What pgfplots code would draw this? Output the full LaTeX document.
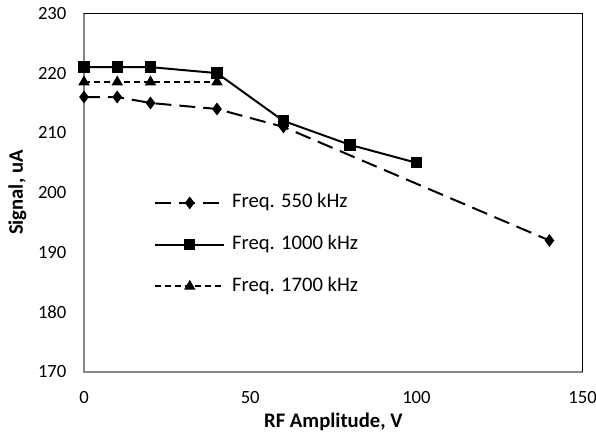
\documentclass[border=0pt]{standalone}
\usepackage{fontspec}
\setmainfont{Carlito}
\usepackage{pgfplots}
\pgfplotsset{compat=1.18}
\definecolor{axisgray}{RGB}{134,134,134}

\begin{document}
\begin{tikzpicture}
\begin{axis}[
  width=374pt, height=269pt, scale only axis,
  xmin=0, xmax=150, ymin=170, ymax=230,
  xtick={0,50,100,150}, ytick={170,180,...,230},
  major tick length=0pt,
  axis line style={draw=none},
  tick label style={font=\fontsize{14}{16}\selectfont, inner sep=0pt},
  /pgf/number format/assume math mode=true,
  xticklabel style={yshift=-14pt},
  yticklabel style={xshift=-13pt},
  xlabel={RF Amplitude, V}, ylabel={Signal, uA},
  every axis x label/.style={at={(axis description cs:0.5,-0.1394)}, anchor=center,
    font=\fontsize{15.5}{18}\selectfont\bfseries},
  every axis y label/.style={at={(axis description cs:-0.1337,0.5)}, anchor=center, rotate=90,
    font=\fontsize{15.5}{18}\selectfont\bfseries},
  clip=false,
  legend cell align=left,
  legend style={draw=none, fill=none, inner sep=0pt,
    at={(axis description cs:0.14,0.355)}, anchor=west,
    font=\fontsize{15.5}{18}\selectfont,
    nodes={inner sep=0pt, text height=10.5pt, text depth=3.5pt},
    row sep=17.3pt, column sep=5pt},
  legend image code/.code={\draw[mark repeat=2, mark phase=2] plot coordinates {(0pt,0pt)(26pt,0pt)(52pt,0pt)};},
]
\addplot[black, line width=1.5pt, dash pattern=on 12pt off 6pt, mark=diamond*, mark size=3.6pt, mark options={solid}]
  coordinates {(0,216)(10,216)(20,215)(40,214)(60,211)(140,192)};
\addlegendentry{Freq. 550 kHz}
\addplot[black, line width=1.5pt, mark=square*, mark size=3.5pt, mark options={solid}]
  coordinates {(0,221)(10,221)(20,221)(40,220)(60,212)(80,208)(100,205)};
\addlegendentry{Freq. 1000 kHz}
\addplot[black, line width=1.5pt, dash pattern=on 4.5pt off 3pt, mark=triangle*, mark size=3.5pt, mark options={solid}]
  coordinates {(0,218.5)(10,218.5)(20,218.5)(40,218.5)};
\addlegendentry{Freq. 1700 kHz}
\draw[axisgray, line width=1.5pt] (rel axis cs:0,1) -- (rel axis cs:0,0) -- (rel axis cs:1,0);
\draw[black, line width=1.1pt] (rel axis cs:0,1) -- (rel axis cs:1,1) -- (rel axis cs:1,0);
\end{axis}
\pgfresetboundingbox
\useasboundingbox (-63pt,-52.5pt) rectangle (384pt,279pt);
\end{tikzpicture}
\end{document}
